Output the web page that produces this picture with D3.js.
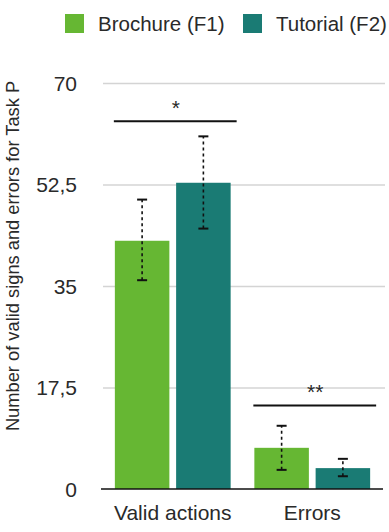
<html>
<head>
    <style>
        body { margin: 0; background: #fff; }
        text { font-family: "Liberation Sans", Arial, sans-serif; fill: #2a2a2a; }
        .grid line { stroke: #d4d4d4; stroke-width: 1.5px; }
    </style>
</head>
<body>
    <svg id="container" width="389" height="532"></svg>
</body>
<script src="https://d3js.org/d3.v7.min.js"></script>
<script>
    // chart values
    let categories = ["Valid actions", "Errors"]
    let seriesNames = ["Brochure (F1)", "Tutorial (F2)"]
    let seriesColors = ["#66b733", "#1a7b74"]
    let meanF1 = [42.8, 7.1]
    let meanF2 = [52.8, 3.6]
    let lowF1 = [36.0, 3.3]
    let highF1 = [49.9, 10.9]
    let lowF2 = [44.9, 2.2]
    let highF2 = [60.8, 5.2]
    let sigLabels = ["*", "**"]
    let sigValues = [63.4, 14.4]
    let tickValues = [0, 17.5, 35, 52.5, 70]
    let tickLabels = ["0", "17,5", "35", "52,5", "70"]

    let svg = d3.select("#container")

    let rows = categories.map((c, i) => ({
        cat: c,
        bars: [
            { s: seriesNames[0], v: meanF1[i], lo: lowF1[i], hi: highF1[i], color: seriesColors[0] },
            { s: seriesNames[1], v: meanF2[i], lo: lowF2[i], hi: highF2[i], color: seriesColors[1] }
        ]
    }))

    let yScale = d3.scaleLinear().domain([0, 70]).range([489, 83])
    let x0 = d3.scaleBand().domain(categories).range([103, 382])
                .paddingInner(0.17).paddingOuter(0.085)
    let x1 = d3.scaleBand().domain(seriesNames).range([0, x0.bandwidth()]).paddingInner(0.11)

    // gridlines
    svg.append("g")
        .attr("class", "grid")
        .attr("transform", "translate(103,0)")
        .call(d3.axisLeft(yScale).tickValues(tickValues.slice(1)).tickSize(-282).tickFormat(""))
        .call(g => g.select(".domain").remove())

    // tick labels
    svg.append("g")
        .selectAll("text")
        .data(tickValues)
        .join("text")
        .attr("x", 77)
        .attr("y", d => yScale(d) + 7.5)
        .attr("text-anchor", "end")
        .style("font-size", "21px")
        .text((d, i) => tickLabels[i])

    // bars
    let groups = svg.append("g").selectAll("g")
        .data(rows)
        .join("g")
        .attr("transform", d => "translate(" + x0(d.cat) + ",0)")

    groups.selectAll("rect")
        .data(d => d.bars)
        .join("rect")
        .attr("x", d => x1(d.s))
        .attr("width", x1.bandwidth())
        .attr("y", d => yScale(d.v))
        .attr("height", d => yScale(0) - yScale(d.v))
        .attr("fill", d => d.color)

    // error bars
    let err = groups.selectAll("g.err")
        .data(d => d.bars)
        .join("g")
        .attr("class", "err")
        .attr("transform", d => "translate(" + (x1(d.s) + x1.bandwidth() / 2) + ",0)")

    err.append("line")
        .attr("y1", d => yScale(d.lo))
        .attr("y2", d => yScale(d.hi))
        .attr("stroke", "#111")
        .attr("stroke-width", 1.6)
        .attr("stroke-dasharray", "3,3")
    err.selectAll("line.cap")
        .data(d => [d.lo, d.hi])
        .join("line")
        .attr("class", "cap")
        .attr("x1", -5).attr("x2", 5)
        .attr("y1", d => yScale(d))
        .attr("y2", d => yScale(d))
        .attr("stroke", "#111")
        .attr("stroke-width", 2)

    // baseline
    svg.append("line")
        .attr("x1", 101).attr("x2", 383)
        .attr("y1", yScale(0)).attr("y2", yScale(0))
        .attr("stroke", "#111")
        .attr("stroke-width", 1.5)

    // category labels
    svg.append("g").selectAll("text")
        .data(categories)
        .join("text")
        .attr("x", d => x0(d) + x0.bandwidth() / 2)
        .attr("y", 520)
        .attr("text-anchor", "middle")
        .style("font-size", "21px")
        .text(d => d)

    // significance markers
    let sig = svg.append("g").selectAll("g")
        .data(categories)
        .join("g")
    sig.append("line")
        .attr("x1", d => x0(d) - 1)
        .attr("x2", d => x0(d) + x0.bandwidth() + 6)
        .attr("y1", (d, i) => yScale(sigValues[i]))
        .attr("y2", (d, i) => yScale(sigValues[i]))
        .attr("stroke", "#111")
        .attr("stroke-width", 2)
    sig.append("text")
        .attr("x", d => x0(d) + x0.bandwidth() / 2 + 3)
        .attr("y", (d, i) => yScale(sigValues[i]) - 6)
        .attr("text-anchor", "middle")
        .style("font-size", "21px")
        .text((d, i) => sigLabels[i])

    // y axis title
    svg.append("text")
        .attr("transform", "translate(19,256) rotate(-90)")
        .attr("text-anchor", "middle")
        .style("font-size", "18.3px")
        .text("Number of valid signs and errors for Task P")

    // legend
    let legendX = [65, 243]
    let legend = svg.append("g").selectAll("g")
        .data(seriesNames)
        .join("g")
        .attr("transform", (d, i) => "translate(" + legendX[i] + ",14)")
    legend.append("rect")
        .attr("width", 19).attr("height", 19)
        .attr("fill", (d, i) => seriesColors[i])
    legend.append("text")
        .attr("x", 33).attr("y", 17)
        .style("font-size", "20.5px")
        .text(d => d)
</script>
</html>
